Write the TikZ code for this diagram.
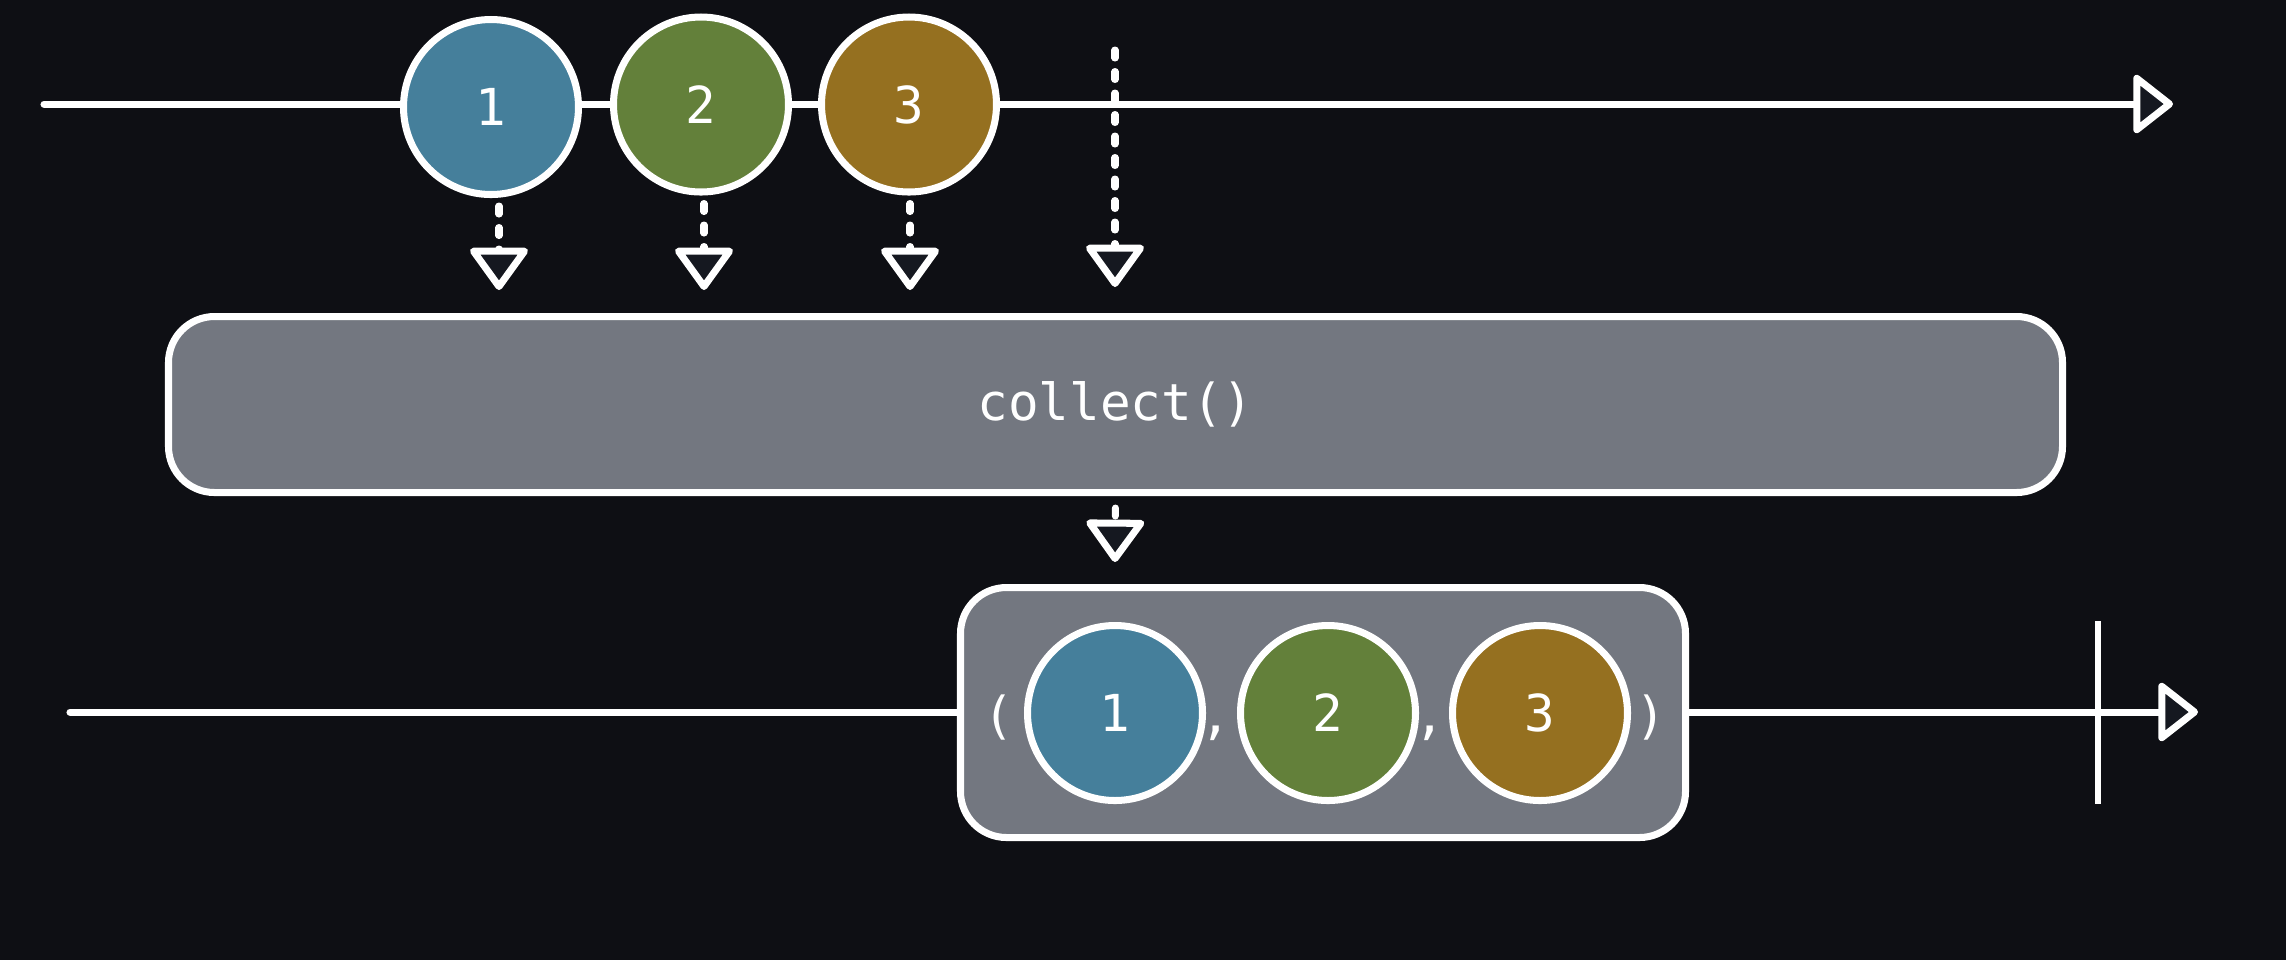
\documentclass[tikz,border=0pt]{standalone}
\usepackage{fontspec}
\setmonofont{DejaVu Sans Mono}
\usetikzlibrary{arrows.meta}
\definecolor{bg}{HTML}{0E0F14}
\definecolor{opgray}{HTML}{737780}
\definecolor{tipfill}{HTML}{151820}
\definecolor{mblue}{HTML}{457F9B}
\definecolor{mgreen}{HTML}{63803A}
\definecolor{mbrown}{HTML}{957020}
\newcommand{\mfont}{\ttfamily\fontsize{14.5}{17}\selectfont}
\tikzset{ m/.style = { circle
                     , draw         = white
                     , line width   = 2pt
                     , inner sep    = 0pt
                     , minimum size = 17.5mm
                     , text         = white
                     , font         = \mfont
                     },
          op/.style = { rectangle
                      , rounded corners = 4.6mm
                      , draw           = white
                      , fill           = opgray
                      , line width     = 2pt
                      , minimum width  = 189.4mm
                      , minimum height = 17.6mm
                      , text           = white
                      , font           = \mfont
                      },
          p/.style = { text      = white
                     , inner sep = 0pt
                     , anchor    = base
                     , font      = \mfont
                     },
          tl/.style = { draw       = white
                      , line width = 2pt
                      , line cap   = round
                      , -{Triangle[length=4.2mm, width=6.4mm, round, fill=tipfill]}
                      },
          dl/.style = { draw         = white
                      , line width   = 2pt
                      , line cap     = round
                      , dash pattern = on 0.8mm off 1.35mm
                      , -{Triangle[length=4.5mm, width=6.3mm, round, fill=tipfill]}
                      }
        }

\begin{document}
\begin{tikzpicture}[x=1cm, y=-1cm]
    \fill[bg] (0,0) rectangle (22.86,9.60);
    % source stream
    \coordinate (s0) at (0.44,1.04);
    \coordinate (s1) at (21.73,1.04);
    \draw[tl] (s0) -- (s1);
    \node[m, fill=mblue]  (a1) at (4.91,1.07)  {1};
    \node[m, fill=mgreen] (a2) at (7.01,1.045) {2};
    \node[m, fill=mbrown] (a3) at (9.09,1.045) {3};
    % operator
    \node[op] (collect) at (11.155,4.045) {collect()};
    \coordinate (t1) at (4.99,2.90);
    \coordinate (t2) at (7.04,2.90);
    \coordinate (t3) at (9.10,2.90);
    \coordinate (c0) at (11.15,0.50);
    \coordinate (t4) at (11.15,2.87);
    \draw[dl, shorten <=0.08cm] (a1.south -| t1) -- (t1);
    \draw[dl, shorten <=0.08cm] (a2.south -| t2) -- (t2);
    \draw[dl, shorten <=0.08cm] (a3.south -| t3) -- (t3);
    \draw[dl] (c0) -- (t4);
    % result stream
    \coordinate (r0) at (0.70,7.12);
    \coordinate (r1) at (21.98,7.12);
    \draw[tl] (r0) -- (r1);
    \coordinate (t5) at (11.15,5.62);
    \draw[dl, shorten <=0.12cm] (collect.south) -- (t5);
    \node[op, minimum width=72.5mm, minimum height=25mm] (res) at (13.23,7.125) {};
    \node[m, fill=mblue]  (b1) at (11.15,7.13) {1};
    \node[m, fill=mgreen] (b2) at (13.28,7.13) {2};
    \node[m, fill=mbrown] (b3) at (15.40,7.13) {3};
    \node[p] (lp) at (9.99,7.33)  {(};
    \node[p] (k1) at (12.16,7.33) {,};
    \node[p] (k2) at (14.30,7.33) {,};
    \node[p] (rp) at (16.51,7.33) {)};
    % completion
    \coordinate (e0) at (20.98,6.21);
    \coordinate (e1) at (20.98,8.04);
    \draw[white, line width=1.5pt] (e0) -- (e1);
\end{tikzpicture}
\end{document}
